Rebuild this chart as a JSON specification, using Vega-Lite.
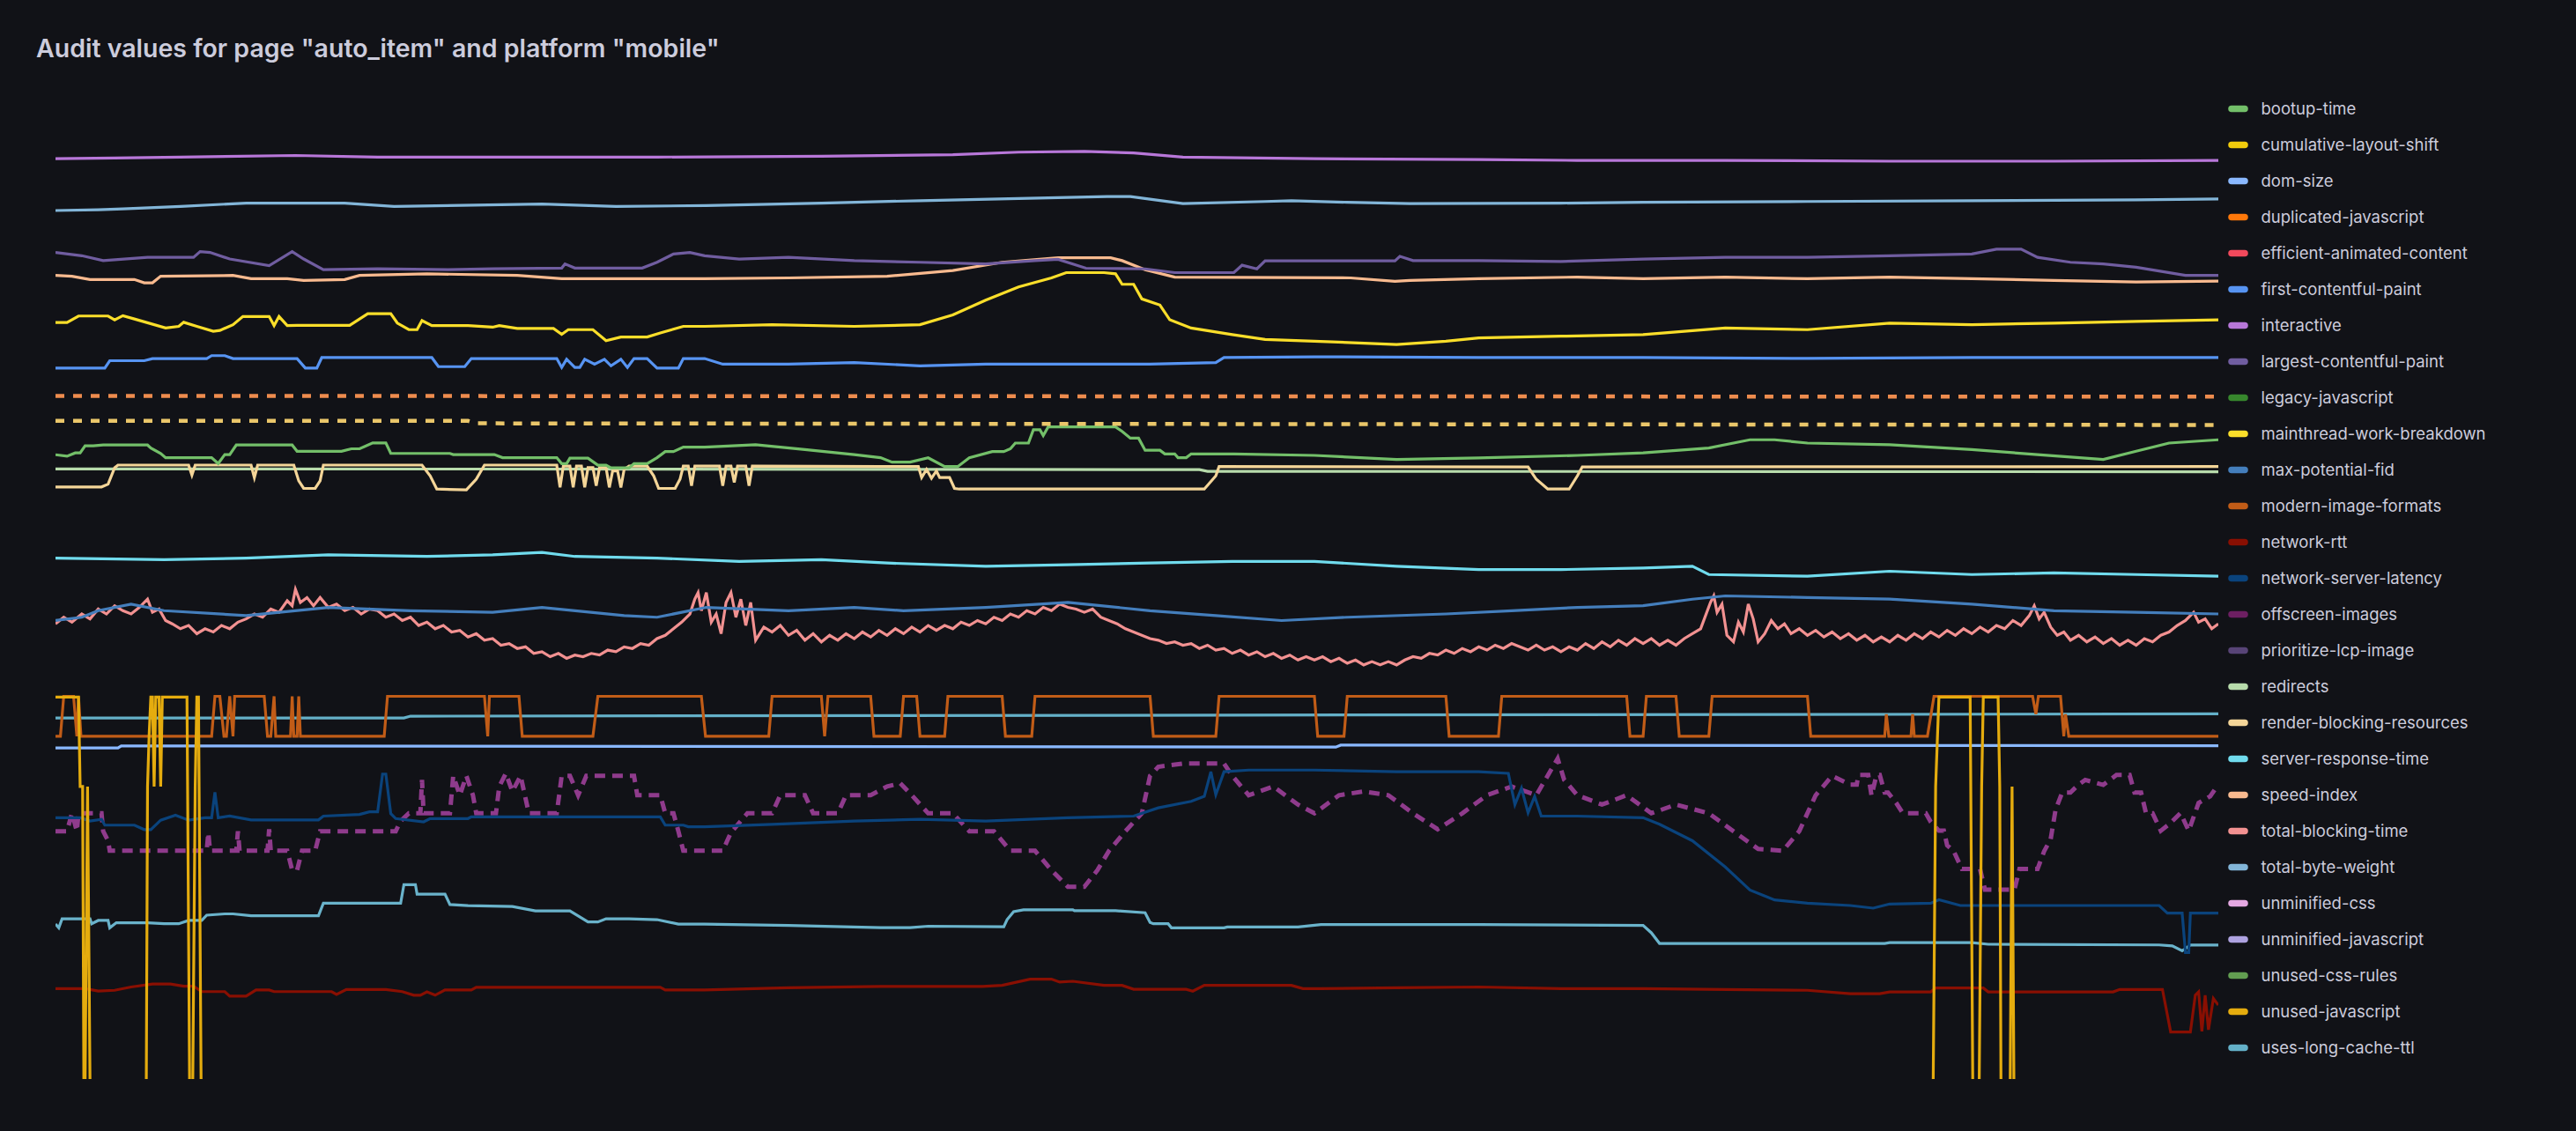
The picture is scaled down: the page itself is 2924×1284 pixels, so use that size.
{
"$schema": "https://vega.github.io/schema/vega-lite/v6.json",
"width": 2455, "height": 1125,
"autosize": {"type": "none"},
"padding": {"left": 63, "top": 100, "right": 406, "bottom": 59},
"background": "#111217",
"config": {"view": {"stroke": null}, "font": "Inter"},
"title": {"text": "Audit values for page \"auto_item\" and platform \"mobile\"", "anchor": "start", "frame": "group", "dx": -22, "offset": 30, "fontSize": 28.5, "fontWeight": 600, "color": "#CCCCDC", "font": "Inter"},
"datasets": {
"interactive": [{"t":0,"v":560},{"t":36,"v":560.5},{"t":76,"v":561},{"t":146,"v":562},{"t":196,"v":561},{"t":266,"v":561},{"t":366,"v":561},{"t":466,"v":561.5},{"t":546,"v":562.5},{"t":586,"v":564},{"t":626,"v":564.5},{"t":656,"v":563.5},{"t":686,"v":561},{"t":766,"v":560},{"t":866,"v":559.5},{"t":926,"v":559},{"t":1016,"v":559},{"t":1116,"v":558.5},{"t":1216,"v":558.5},{"t":1316,"v":559}],
"total-byte-weight": [{"t":0,"v":528.5},{"t":26,"v":529},{"t":41,"v":529.5},{"t":76,"v":531},{"t":116,"v":533},{"t":176,"v":533},{"t":206,"v":531},{"t":296,"v":532.5},{"t":341,"v":531},{"t":396,"v":531.5},{"t":466,"v":533},{"t":526,"v":534.5},{"t":610,"v":536.3},{"t":640,"v":537},{"t":654,"v":537},{"t":686,"v":532.7},{"t":736,"v":534},{"t":752,"v":534.5},{"t":786,"v":533.5},{"t":824,"v":532.7},{"t":916,"v":533},{"t":966,"v":533.5},{"t":1066,"v":534},{"t":1166,"v":534.5},{"t":1266,"v":535},{"t":1316,"v":535.5}],
"largest-contentful-paint": [{"t":0,"v":503},{"t":16,"v":501},{"t":29,"v":498},{"t":56,"v":500},{"t":84,"v":500},{"t":88,"v":503.5},{"t":94,"v":503},{"t":106,"v":499},{"t":130,"v":495},{"t":144,"v":503.5},{"t":151,"v":499},{"t":163,"v":492.5},{"t":196,"v":493},{"t":239,"v":492.5},{"t":266,"v":493},{"t":308,"v":493.5},{"t":310,"v":496},{"t":316,"v":493.5},{"t":357,"v":493.5},{"t":366,"v":497},{"t":376,"v":502},{"t":386,"v":503},{"t":395,"v":501},{"t":416,"v":499},{"t":446,"v":500},{"t":486,"v":498},{"t":526,"v":497},{"t":566,"v":496},{"t":596,"v":498},{"t":610,"v":498.8},{"t":627,"v":493.4},{"t":663,"v":493},{"t":681,"v":490.7},{"t":717,"v":490.7},{"t":722,"v":495.2},{"t":731,"v":493},{"t":736,"v":497.9},{"t":815,"v":497.9},{"t":818,"v":500.6},{"t":826,"v":498},{"t":866,"v":498},{"t":916,"v":497.5},{"t":966,"v":499},{"t":1016,"v":500},{"t":1066,"v":500},{"t":1116,"v":501},{"t":1166,"v":502},{"t":1181,"v":505},{"t":1196,"v":505},{"t":1206,"v":500},{"t":1226,"v":497},{"t":1246,"v":496},{"t":1266,"v":494},{"t":1296,"v":489},{"t":1316,"v":489}],
"speed-index": [{"t":0,"v":489},{"t":10,"v":488.5},{"t":21,"v":486.5},{"t":48,"v":486.5},{"t":54,"v":484.5},{"t":59,"v":484.5},{"t":64,"v":488.5},{"t":108,"v":489},{"t":119,"v":487},{"t":141,"v":487},{"t":151,"v":486},{"t":176,"v":486.5},{"t":185,"v":489},{"t":226,"v":490},{"t":281,"v":489},{"t":308,"v":487},{"t":395,"v":487},{"t":446,"v":487.5},{"t":506,"v":488.5},{"t":546,"v":492},{"t":576,"v":497},{"t":610,"v":499.7},{"t":642,"v":499.7},{"t":649,"v":498},{"t":663,"v":492.5},{"t":681,"v":488},{"t":788,"v":487.5},{"t":815,"v":485.4},{"t":824,"v":486},{"t":866,"v":487},{"t":926,"v":488},{"t":966,"v":487},{"t":1016,"v":488},{"t":1066,"v":487},{"t":1116,"v":488},{"t":1166,"v":487},{"t":1216,"v":486},{"t":1266,"v":485},{"t":1316,"v":485.5}],
"mainthread-work-breakdown": [{"t":0,"v":460.4},{"t":7,"v":460.4},{"t":14,"v":464.3},{"t":32,"v":464.3},{"t":36,"v":462},{"t":41,"v":464.5},{"t":48,"v":462.5},{"t":67,"v":457},{"t":75,"v":458},{"t":78,"v":460.5},{"t":86,"v":458},{"t":96,"v":455},{"t":100,"v":455.5},{"t":108,"v":459},{"t":114,"v":464},{"t":130,"v":464},{"t":133,"v":458.5},{"t":136,"v":464},{"t":141,"v":458.5},{"t":147,"v":458.6},{"t":179,"v":458.6},{"t":190,"v":465.7},{"t":204,"v":465.7},{"t":208,"v":460},{"t":215,"v":456},{"t":220,"v":456},{"t":223,"v":461.5},{"t":229,"v":458.5},{"t":251,"v":458.5},{"t":266,"v":457.5},{"t":270,"v":458.5},{"t":281,"v":456.7},{"t":303,"v":456.7},{"t":308,"v":453.2},{"t":312,"v":456},{"t":327,"v":456},{"t":335,"v":449.3},{"t":344,"v":451.5},{"t":360,"v":451.5},{"t":368,"v":454},{"t":382,"v":458},{"t":395,"v":458},{"t":436,"v":459},{"t":486,"v":458},{"t":526,"v":459},{"t":546,"v":465},{"t":566,"v":474},{"t":586,"v":482},{"t":606,"v":487.5},{"t":615,"v":490.7},{"t":638,"v":490.7},{"t":645,"v":490},{"t":649,"v":483.6},{"t":656,"v":483.6},{"t":661,"v":474.7},{"t":672,"v":471},{"t":678,"v":462},{"t":691,"v":457},{"t":716,"v":453},{"t":736,"v":450},{"t":766,"v":449},{"t":816,"v":447},{"t":846,"v":449},{"t":866,"v":451},{"t":916,"v":452},{"t":966,"v":453},{"t":1016,"v":457},{"t":1066,"v":456},{"t":1116,"v":460},{"t":1166,"v":459},{"t":1216,"v":460},{"t":1266,"v":461},{"t":1316,"v":462}],
"first-contentful-paint": [{"t":0,"v":432.6},{"t":30,"v":432.6},{"t":33,"v":437.1},{"t":54,"v":437.1},{"t":59,"v":438.4},{"t":92,"v":438.4},{"t":95,"v":440.2},{"t":103,"v":440.2},{"t":108,"v":438.4},{"t":147,"v":438.4},{"t":152,"v":432.6},{"t":159,"v":432.6},{"t":162,"v":439},{"t":229,"v":439},{"t":233,"v":433.5},{"t":249,"v":433.5},{"t":253,"v":438.4},{"t":305,"v":438.4},{"t":308,"v":433},{"t":311,"v":438},{"t":316,"v":433},{"t":319,"v":433},{"t":322,"v":438},{"t":328,"v":435},{"t":334,"v":438},{"t":338,"v":434},{"t":344,"v":438},{"t":348,"v":433},{"t":352,"v":438.4},{"t":360,"v":438.4},{"t":366,"v":432.6},{"t":379,"v":432.6},{"t":382,"v":438.4},{"t":395,"v":438.4},{"t":406,"v":435},{"t":446,"v":435},{"t":486,"v":436},{"t":526,"v":434},{"t":566,"v":435},{"t":616,"v":435},{"t":666,"v":435},{"t":706,"v":436},{"t":711,"v":439},{"t":766,"v":439.5},{"t":866,"v":439},{"t":966,"v":439},{"t":1066,"v":438.5},{"t":1166,"v":439},{"t":1266,"v":439},{"t":1316,"v":439}],
"duplicated-javascript": [{"t":0,"v":415.7},{"t":1316,"v":415.2}],
"cumulative-layout-shift": [{"t":0,"v":400.5},{"t":251,"v":400.5},{"t":256,"v":399},{"t":1316,"v":398}],
"bootup-time": [{"t":0,"v":379.9},{"t":7,"v":379},{"t":12,"v":381},{"t":15,"v":381},{"t":18,"v":385.3},{"t":23,"v":385.3},{"t":29,"v":385.8},{"t":56,"v":385.8},{"t":58,"v":384},{"t":64,"v":380.7},{"t":67,"v":378.1},{"t":95,"v":378.1},{"t":99,"v":374.5},{"t":103,"v":380},{"t":106,"v":380},{"t":110,"v":385.8},{"t":144,"v":385.8},{"t":147,"v":382},{"t":174,"v":382},{"t":180,"v":383.5},{"t":185,"v":383.5},{"t":193,"v":387.1},{"t":201,"v":387.1},{"t":204,"v":380.7},{"t":240,"v":380.7},{"t":242,"v":380},{"t":267,"v":380},{"t":272,"v":378.1},{"t":305,"v":378.1},{"t":308,"v":374.5},{"t":311,"v":374.5},{"t":313,"v":377.8},{"t":324,"v":377.8},{"t":330,"v":373.5},{"t":335,"v":373.5},{"t":338,"v":371.9},{"t":349,"v":371.9},{"t":352,"v":374.5},{"t":360,"v":374.5},{"t":366,"v":378.1},{"t":371,"v":381.8},{"t":376,"v":381.8},{"t":382,"v":384.5},{"t":395,"v":384.5},{"t":426,"v":386},{"t":456,"v":383},{"t":486,"v":380},{"t":502,"v":378.1},{"t":509,"v":375.4},{"t":520,"v":375.4},{"t":531,"v":378},{"t":541,"v":372.7},{"t":549,"v":372.7},{"t":556,"v":378},{"t":570,"v":381.8},{"t":577,"v":381.8},{"t":581,"v":383.5},{"t":584,"v":387},{"t":592,"v":387},{"t":595,"v":395.1},{"t":599,"v":395.1},{"t":601,"v":391.5},{"t":604,"v":396.8},{"t":645,"v":396.8},{"t":649,"v":394.1},{"t":654,"v":390},{"t":659,"v":390},{"t":663,"v":382.6},{"t":672,"v":382.6},{"t":675,"v":380.4},{"t":681,"v":380.4},{"t":683,"v":378.1},{"t":688,"v":378.1},{"t":691,"v":380.4},{"t":717,"v":380.4},{"t":766,"v":379.5},{"t":816,"v":377},{"t":866,"v":378},{"t":926,"v":379.5},{"t":966,"v":381},{"t":1006,"v":384},{"t":1031,"v":389},{"t":1046,"v":389},{"t":1066,"v":387},{"t":1116,"v":386},{"t":1166,"v":383},{"t":1206,"v":380},{"t":1246,"v":377},{"t":1266,"v":382},{"t":1286,"v":387},{"t":1316,"v":389}],
"redirects": [{"t":0,"v":371.3},{"t":566,"v":371},{"t":696,"v":370.8},{"t":701,"v":369.8},{"t":1316,"v":369.5}],
"render-blocking-resources": [{"t":0,"v":360.3},{"t":28,"v":360.3},{"t":32,"v":362},{"t":36,"v":372},{"t":38,"v":373.6},{"t":81,"v":373.6},{"t":83,"v":367.5},{"t":85,"v":373.6},{"t":119,"v":373.6},{"t":121,"v":366},{"t":123,"v":373.6},{"t":145,"v":373.6},{"t":148,"v":364},{"t":151,"v":359.4},{"t":158,"v":359.4},{"t":161,"v":364},{"t":163,"v":373.6},{"t":223,"v":373.6},{"t":228,"v":367},{"t":232,"v":359},{"t":250,"v":358.5},{"t":256,"v":365},{"t":261,"v":373.6},{"t":305,"v":373.6},{"t":307,"v":360},{"t":309,"v":373},{"t":313,"v":373},{"t":315,"v":360},{"t":317,"v":373},{"t":320,"v":373},{"t":322,"v":360},{"t":324,"v":372},{"t":327,"v":372},{"t":329,"v":361},{"t":331,"v":372},{"t":335,"v":372},{"t":337,"v":360},{"t":339,"v":370},{"t":342,"v":370},{"t":344,"v":360},{"t":346,"v":371},{"t":349,"v":373},{"t":360,"v":373},{"t":364,"v":367},{"t":367,"v":359.4},{"t":377,"v":359.4},{"t":380,"v":365},{"t":382,"v":373},{"t":385,"v":373},{"t":387,"v":361},{"t":389,"v":373},{"t":404,"v":373},{"t":406,"v":361},{"t":408,"v":373},{"t":411,"v":373},{"t":413,"v":363},{"t":415,"v":373},{"t":420,"v":373},{"t":422,"v":361},{"t":424,"v":373},{"t":502,"v":372.7},{"t":525,"v":372.7},{"t":527,"v":366},{"t":530,"v":371},{"t":533,"v":365.6},{"t":536,"v":370},{"t":538,"v":366},{"t":544,"v":366},{"t":547,"v":359.4},{"t":550,"v":359},{"t":699,"v":359},{"t":706,"v":367},{"t":708,"v":372.7},{"t":896,"v":372.5},{"t":901,"v":365},{"t":908,"v":359},{"t":921,"v":359},{"t":926,"v":367},{"t":929,"v":372.5},{"t":1316,"v":372.7}],
"server-response-time": [{"t":0,"v":317},{"t":66,"v":316},{"t":116,"v":317},{"t":166,"v":319},{"t":226,"v":318},{"t":266,"v":319},{"t":296,"v":320.5},{"t":316,"v":318},{"t":366,"v":317},{"t":416,"v":315},{"t":466,"v":316},{"t":506,"v":314},{"t":566,"v":312},{"t":616,"v":313},{"t":666,"v":314},{"t":716,"v":315},{"t":766,"v":315},{"t":816,"v":312},{"t":866,"v":310},{"t":916,"v":310},{"t":966,"v":311},{"t":996,"v":312},{"t":1006,"v":307},{"t":1066,"v":306},{"t":1116,"v":309},{"t":1166,"v":307},{"t":1216,"v":308},{"t":1266,"v":307},{"t":1316,"v":306}],
"max-potential-fid": [{"t":0,"v":279},{"t":16,"v":281},{"t":26,"v":285},{"t":46,"v":289},{"t":66,"v":285},{"t":116,"v":282},{"t":166,"v":287},{"t":216,"v":285},{"t":266,"v":284},{"t":296,"v":287},{"t":346,"v":282},{"t":366,"v":281},{"t":396,"v":287},{"t":446,"v":285},{"t":486,"v":287},{"t":516,"v":285},{"t":566,"v":287},{"t":616,"v":290},{"t":666,"v":285},{"t":706,"v":282},{"t":746,"v":279},{"t":786,"v":281},{"t":846,"v":283},{"t":886,"v":285},{"t":926,"v":287},{"t":966,"v":288},{"t":996,"v":292},{"t":1016,"v":294},{"t":1066,"v":293},{"t":1116,"v":292},{"t":1166,"v":289},{"t":1216,"v":285},{"t":1266,"v":284},{"t":1316,"v":283}],
"total-blocking-time": [{"t":0,"v":277},{"t":5,"v":281},{"t":10,"v":278},{"t":16,"v":283},{"t":21,"v":280},{"t":26,"v":286},{"t":31,"v":283},{"t":36,"v":288},{"t":41,"v":285},{"t":46,"v":283},{"t":51,"v":287},{"t":56,"v":292},{"t":59,"v":284},{"t":63,"v":286},{"t":67,"v":279},{"t":71,"v":277},{"t":76,"v":274},{"t":81,"v":276},{"t":86,"v":271},{"t":91,"v":274},{"t":96,"v":272},{"t":101,"v":276},{"t":106,"v":274},{"t":111,"v":278},{"t":116,"v":280},{"t":121,"v":283},{"t":126,"v":281},{"t":131,"v":286},{"t":136,"v":284},{"t":141,"v":291},{"t":144,"v":288},{"t":146,"v":298},{"t":149,"v":290},{"t":153,"v":293},{"t":157,"v":288},{"t":161,"v":293},{"t":166,"v":287},{"t":171,"v":289},{"t":176,"v":285},{"t":181,"v":287},{"t":186,"v":283},{"t":191,"v":286},{"t":196,"v":285},{"t":201,"v":281},{"t":206,"v":283},{"t":211,"v":279},{"t":216,"v":281},{"t":221,"v":276},{"t":226,"v":278},{"t":231,"v":274},{"t":236,"v":276},{"t":241,"v":272},{"t":246,"v":273},{"t":251,"v":269},{"t":256,"v":271},{"t":261,"v":267},{"t":266,"v":268},{"t":271,"v":264},{"t":276,"v":265},{"t":281,"v":262},{"t":286,"v":263},{"t":291,"v":259},{"t":296,"v":260},{"t":301,"v":257},{"t":306,"v":259},{"t":311,"v":256},{"t":316,"v":258},{"t":321,"v":257},{"t":326,"v":259},{"t":331,"v":258},{"t":336,"v":261},{"t":341,"v":260},{"t":346,"v":263},{"t":351,"v":262},{"t":356,"v":265},{"t":361,"v":264},{"t":366,"v":268},{"t":371,"v":270},{"t":376,"v":274},{"t":381,"v":278},{"t":386,"v":283},{"t":389,"v":292},{"t":391,"v":296},{"t":393,"v":285},{"t":396,"v":296},{"t":399,"v":278},{"t":402,"v":283},{"t":405,"v":271},{"t":408,"v":290},{"t":411,"v":296},{"t":414,"v":281},{"t":417,"v":292},{"t":420,"v":276},{"t":423,"v":290},{"t":426,"v":267},{"t":431,"v":275},{"t":436,"v":272},{"t":441,"v":276},{"t":446,"v":270},{"t":451,"v":273},{"t":456,"v":267},{"t":461,"v":271},{"t":466,"v":266},{"t":471,"v":270},{"t":476,"v":267},{"t":481,"v":271},{"t":486,"v":268},{"t":491,"v":272},{"t":496,"v":269},{"t":501,"v":273},{"t":506,"v":270},{"t":511,"v":274},{"t":516,"v":271},{"t":521,"v":275},{"t":526,"v":272},{"t":531,"v":276},{"t":536,"v":273},{"t":541,"v":276},{"t":546,"v":274},{"t":551,"v":278},{"t":556,"v":276},{"t":561,"v":279},{"t":566,"v":277},{"t":571,"v":281},{"t":576,"v":279},{"t":581,"v":283},{"t":586,"v":281},{"t":591,"v":285},{"t":596,"v":283},{"t":601,"v":287},{"t":606,"v":285},{"t":611,"v":289},{"t":616,"v":287},{"t":621,"v":286},{"t":626,"v":284},{"t":631,"v":286},{"t":636,"v":281},{"t":641,"v":279},{"t":646,"v":277},{"t":651,"v":274},{"t":656,"v":272},{"t":661,"v":270},{"t":666,"v":268},{"t":671,"v":267},{"t":676,"v":265},{"t":681,"v":266},{"t":686,"v":264},{"t":691,"v":265},{"t":696,"v":262},{"t":701,"v":264},{"t":706,"v":261},{"t":711,"v":262},{"t":716,"v":259},{"t":721,"v":261},{"t":726,"v":258},{"t":731,"v":260},{"t":736,"v":257},{"t":741,"v":259},{"t":746,"v":256},{"t":751,"v":258},{"t":756,"v":255},{"t":761,"v":257},{"t":766,"v":255},{"t":771,"v":257},{"t":776,"v":254},{"t":781,"v":256},{"t":786,"v":253},{"t":791,"v":255},{"t":796,"v":252},{"t":801,"v":254},{"t":806,"v":252},{"t":811,"v":254},{"t":816,"v":252},{"t":821,"v":255},{"t":826,"v":257},{"t":831,"v":256},{"t":836,"v":259},{"t":841,"v":258},{"t":846,"v":261},{"t":851,"v":259},{"t":856,"v":262},{"t":861,"v":260},{"t":866,"v":263},{"t":871,"v":261},{"t":876,"v":264},{"t":881,"v":262},{"t":886,"v":265},{"t":891,"v":263},{"t":896,"v":261},{"t":901,"v":264},{"t":906,"v":261},{"t":911,"v":263},{"t":916,"v":260},{"t":921,"v":263},{"t":926,"v":261},{"t":931,"v":265},{"t":936,"v":262},{"t":941,"v":266},{"t":946,"v":263},{"t":951,"v":267},{"t":956,"v":264},{"t":961,"v":268},{"t":966,"v":265},{"t":971,"v":268},{"t":976,"v":264},{"t":981,"v":267},{"t":986,"v":264},{"t":991,"v":268},{"t":996,"v":271},{"t":1001,"v":274},{"t":1004,"v":282},{"t":1007,"v":290},{"t":1009,"v":294},{"t":1011,"v":284},{"t":1014,"v":289},{"t":1017,"v":270},{"t":1021,"v":266},{"t":1024,"v":278},{"t":1027,"v":272},{"t":1030,"v":289},{"t":1033,"v":280},{"t":1036,"v":266},{"t":1040,"v":271},{"t":1044,"v":279},{"t":1048,"v":274},{"t":1052,"v":277},{"t":1056,"v":271},{"t":1061,"v":274},{"t":1066,"v":270},{"t":1071,"v":273},{"t":1076,"v":269},{"t":1081,"v":272},{"t":1086,"v":268},{"t":1091,"v":271},{"t":1096,"v":267},{"t":1101,"v":270},{"t":1106,"v":266},{"t":1111,"v":269},{"t":1116,"v":266},{"t":1121,"v":270},{"t":1126,"v":267},{"t":1131,"v":271},{"t":1136,"v":268},{"t":1141,"v":272},{"t":1146,"v":269},{"t":1151,"v":273},{"t":1156,"v":270},{"t":1161,"v":274},{"t":1166,"v":271},{"t":1171,"v":275},{"t":1176,"v":272},{"t":1181,"v":276},{"t":1186,"v":274},{"t":1191,"v":279},{"t":1196,"v":276},{"t":1201,"v":282},{"t":1204,"v":288},{"t":1207,"v":280},{"t":1210,"v":284},{"t":1214,"v":275},{"t":1218,"v":270},{"t":1222,"v":272},{"t":1226,"v":267},{"t":1231,"v":270},{"t":1236,"v":266},{"t":1241,"v":269},{"t":1246,"v":265},{"t":1251,"v":268},{"t":1256,"v":264},{"t":1261,"v":267},{"t":1266,"v":264},{"t":1271,"v":268},{"t":1276,"v":266},{"t":1281,"v":270},{"t":1286,"v":272},{"t":1291,"v":276},{"t":1296,"v":279},{"t":1301,"v":284},{"t":1304,"v":278},{"t":1308,"v":280},{"t":1312,"v":274},{"t":1316,"v":277}],
"modern-image-formats": [{"t":0,"v":208.6},{"t":3,"v":208.6},{"t":5,"v":232.9},{"t":11,"v":232.9},{"t":13,"v":208.6},{"t":14,"v":232.9},{"t":15.5,"v":208.6},{"t":95,"v":208.6},{"t":97,"v":232.9},{"t":100,"v":232.9},{"t":102.5,"v":208.6},{"t":104,"v":208.6},{"t":106,"v":232.9},{"t":108,"v":208.6},{"t":109,"v":232.9},{"t":127,"v":232.9},{"t":129,"v":208.6},{"t":131,"v":208.6},{"t":133,"v":232.9},{"t":134,"v":208.6},{"t":143,"v":208.6},{"t":144,"v":232.9},{"t":145,"v":208.6},{"t":147,"v":208.6},{"t":148,"v":232.9},{"t":149,"v":208.6},{"t":200,"v":208.6},{"t":202,"v":232.9},{"t":261,"v":232.9},{"t":263,"v":208.6},{"t":264,"v":232.9},{"t":282,"v":232.9},{"t":284,"v":208.6},{"t":327,"v":208.6},{"t":330,"v":232.9},{"t":393,"v":232.9},{"t":395.5,"v":208.6},{"t":434,"v":208.6},{"t":436,"v":232.9},{"t":466,"v":232.9},{"t":468,"v":208.6},{"t":470,"v":232.9},{"t":496,"v":232.9},{"t":498,"v":208.6},{"t":514,"v":208.6},{"t":516,"v":232.9},{"t":524,"v":232.9},{"t":526,"v":208.6},{"t":541,"v":208.6},{"t":543,"v":232.9},{"t":576,"v":232.9},{"t":578,"v":208.6},{"t":594,"v":208.6},{"t":596,"v":232.9},{"t":666,"v":232.9},{"t":668,"v":208.6},{"t":706,"v":208.6},{"t":708,"v":232.9},{"t":766,"v":232.9},{"t":768,"v":208.6},{"t":784,"v":208.6},{"t":786,"v":232.9},{"t":846,"v":232.9},{"t":848,"v":208.6},{"t":878,"v":208.6},{"t":880,"v":232.9},{"t":956,"v":232.9},{"t":958,"v":208.6},{"t":966,"v":208.6},{"t":968,"v":232.9},{"t":986,"v":232.9},{"t":988,"v":208.6},{"t":1006,"v":208.6},{"t":1008,"v":232.9},{"t":1066,"v":232.9},{"t":1068,"v":208.6},{"t":1113,"v":208.6},{"t":1114,"v":222},{"t":1115.5,"v":208.6},{"t":1129,"v":208.6},{"t":1130,"v":222},{"t":1131,"v":208.6},{"t":1139,"v":208.6},{"t":1143,"v":232.9},{"t":1203,"v":232.9},{"t":1205,"v":222},{"t":1206.5,"v":232.9},{"t":1220,"v":232.9},{"t":1222,"v":208.6},{"t":1223,"v":222},{"t":1225,"v":208.6},{"t":1316,"v":208.6}],
"uses-long-cache-ttl": [{"t":0,"v":219.7},{"t":212,"v":219.7},{"t":216,"v":220.8},{"t":1316,"v":222.2}],
"dom-size": [{"t":0,"v":201.5},{"t":38,"v":201.5},{"t":40,"v":202.7},{"t":779,"v":202},{"t":782,"v":203.2},{"t":1316,"v":202.8}],
"unused-javascript": [{"t":0,"v":232.4},{"t":14,"v":232.4},{"t":15,"v":178},{"t":16.5,"v":178},{"t":17.5,"v":-63},{"t":19.5,"v":178},{"t":21.5,"v":-63},{"t":55,"v":-63},{"t":56,"v":178},{"t":57,"v":210},{"t":58,"v":232.4},{"t":59,"v":232.4},{"t":60,"v":178},{"t":61,"v":232.4},{"t":63,"v":232.4},{"t":64,"v":178},{"t":65,"v":232.4},{"t":80,"v":232.4},{"t":82,"v":-63},{"t":83,"v":-63},{"t":85,"v":178},{"t":86,"v":232.4},{"t":87,"v":232.4},{"t":89,"v":-63},{"t":1142,"v":-63},{"t":1144,"v":178},{"t":1146,"v":232.4},{"t":1165,"v":232.4},{"t":1167,"v":-63},{"t":1170,"v":-63},{"t":1172,"v":178},{"t":1173,"v":232.4},{"t":1182,"v":232.4},{"t":1183,"v":178},{"t":1184,"v":-63},{"t":1189,"v":-63},{"t":1190.5,"v":178},{"t":1192,"v":-63},{"t":1316,"v":-63}],
"network-server-latency": [{"t":0,"v":159},{"t":15,"v":159},{"t":21,"v":157},{"t":28,"v":158},{"t":30,"v":154.5},{"t":48,"v":154.5},{"t":54,"v":151.8},{"t":58,"v":151.8},{"t":64,"v":157.5},{"t":73,"v":160.5},{"t":81,"v":157.5},{"t":91,"v":159},{"t":95,"v":159},{"t":97,"v":174.5},{"t":99,"v":159},{"t":106,"v":160},{"t":119,"v":157.7},{"t":160,"v":157.7},{"t":163,"v":160},{"t":185,"v":161},{"t":191,"v":162.6},{"t":196,"v":162.6},{"t":199,"v":185.6},{"t":201,"v":185.6},{"t":204,"v":161.5},{"t":207,"v":158.5},{"t":224,"v":156.5},{"t":228,"v":158.5},{"t":251,"v":158.5},{"t":253,"v":159.5},{"t":368,"v":159.5},{"t":371,"v":154.5},{"t":382,"v":154.5},{"t":385,"v":153.5},{"t":395,"v":153.5},{"t":436,"v":155},{"t":486,"v":157},{"t":526,"v":158},{"t":566,"v":157},{"t":616,"v":159},{"t":656,"v":160},{"t":671,"v":165},{"t":691,"v":169},{"t":699,"v":172},{"t":703,"v":187},{"t":706,"v":173},{"t":711,"v":187},{"t":726,"v":188},{"t":766,"v":188},{"t":816,"v":187},{"t":866,"v":187},{"t":884,"v":186},{"t":888,"v":167},{"t":892,"v":177},{"t":896,"v":162},{"t":900,"v":172},{"t":904,"v":160},{"t":926,"v":160},{"t":966,"v":159},{"t":976,"v":155},{"t":996,"v":145},{"t":1016,"v":129},{"t":1031,"v":115},{"t":1046,"v":109},{"t":1066,"v":107},{"t":1092,"v":105.6},{"t":1106,"v":104},{"t":1116,"v":106.5},{"t":1141,"v":107},{"t":1146,"v":109.1},{"t":1159,"v":105.6},{"t":1280,"v":105.6},{"t":1285,"v":101},{"t":1294,"v":101},{"t":1296,"v":77},{"t":1298,"v":77},{"t":1299,"v":101},{"t":1316,"v":101}],
"offscreen-images": [{"t":0,"v":150.8},{"t":7,"v":150.8},{"t":10,"v":161.7},{"t":13,"v":150.8},{"t":14,"v":161.7},{"t":28,"v":161.7},{"t":29,"v":150.8},{"t":32,"v":145},{"t":33,"v":138.9},{"t":92,"v":138.9},{"t":93,"v":150},{"t":94,"v":138.9},{"t":110,"v":138.9},{"t":111,"v":150.8},{"t":112,"v":138.9},{"t":129,"v":138.9},{"t":130,"v":152},{"t":131,"v":138.9},{"t":141,"v":138.9},{"t":144,"v":127.1},{"t":147,"v":127.1},{"t":150,"v":138.9},{"t":158,"v":138.9},{"t":161,"v":150.8},{"t":207,"v":150.8},{"t":210,"v":157},{"t":215,"v":161.7},{"t":222,"v":161.7},{"t":223,"v":182},{"t":224,"v":161.7},{"t":240,"v":161.7},{"t":242,"v":184.5},{"t":246,"v":172.7},{"t":250,"v":184.5},{"t":254,"v":172.7},{"t":256,"v":161.7},{"t":268,"v":161.7},{"t":270,"v":178},{"t":274,"v":186},{"t":278,"v":175},{"t":283,"v":184.5},{"t":288,"v":161.7},{"t":305,"v":161.7},{"t":308,"v":184.5},{"t":313,"v":184.5},{"t":318,"v":172.7},{"t":323,"v":184.5},{"t":352,"v":184.5},{"t":354,"v":172.7},{"t":368,"v":172.7},{"t":371,"v":161.7},{"t":376,"v":161.7},{"t":379,"v":150.8},{"t":382,"v":138.9},{"t":395,"v":138.9},{"t":406,"v":138.9},{"t":411,"v":150},{"t":421,"v":161.7},{"t":436,"v":161.7},{"t":441,"v":172.7},{"t":456,"v":172.7},{"t":461,"v":161.7},{"t":476,"v":161.7},{"t":481,"v":172.7},{"t":496,"v":172.7},{"t":506,"v":178},{"t":514,"v":180},{"t":521,"v":172.7},{"t":531,"v":161.7},{"t":546,"v":161.7},{"t":556,"v":150.8},{"t":571,"v":150.8},{"t":581,"v":138.9},{"t":596,"v":138.9},{"t":606,"v":127.1},{"t":616,"v":117},{"t":626,"v":117},{"t":634,"v":127.1},{"t":641,"v":138.9},{"t":651,"v":150.8},{"t":661,"v":161.7},{"t":666,"v":184.5},{"t":671,"v":190},{"t":686,"v":192},{"t":711,"v":192},{"t":716,"v":184.5},{"t":726,"v":172.7},{"t":741,"v":178},{"t":756,"v":167},{"t":766,"v":161.7},{"t":781,"v":172.7},{"t":796,"v":175},{"t":811,"v":172.7},{"t":826,"v":161.7},{"t":841,"v":152},{"t":856,"v":161.7},{"t":871,"v":172.7},{"t":886,"v":178},{"t":901,"v":172.7},{"t":914,"v":195},{"t":918,"v":182},{"t":926,"v":172.7},{"t":941,"v":167},{"t":956,"v":172.7},{"t":971,"v":161.7},{"t":986,"v":167},{"t":1006,"v":161.7},{"t":1021,"v":150.8},{"t":1036,"v":140},{"t":1051,"v":138.9},{"t":1061,"v":150.8},{"t":1071,"v":172.7},{"t":1081,"v":184.5},{"t":1092,"v":179.2},{"t":1096,"v":179.2},{"t":1097,"v":185},{"t":1103,"v":185},{"t":1105,"v":172.4},{"t":1108,"v":185},{"t":1110,"v":185},{"t":1113,"v":174.3},{"t":1115,"v":174.3},{"t":1120,"v":168},{"t":1124,"v":161.8},{"t":1138,"v":161.8},{"t":1141,"v":156.5},{"t":1146,"v":151.1},{"t":1149,"v":151.1},{"t":1151,"v":142.2},{"t":1155,"v":138.6},{"t":1160,"v":127.8},{"t":1171,"v":127.8},{"t":1174,"v":115.3},{"t":1192,"v":115.3},{"t":1195,"v":127.8},{"t":1206,"v":127.8},{"t":1210,"v":138.6},{"t":1214,"v":146},{"t":1215.5,"v":155},{"t":1217,"v":164},{"t":1221,"v":174.3},{"t":1226,"v":174.3},{"t":1231,"v":179.2},{"t":1235,"v":182},{"t":1246,"v":179},{"t":1254,"v":185},{"t":1262,"v":185},{"t":1265,"v":174.3},{"t":1269,"v":174.3},{"t":1272,"v":161.8},{"t":1276,"v":161.8},{"t":1281,"v":151.1},{"t":1286,"v":155},{"t":1293,"v":161.8},{"t":1298,"v":151.1},{"t":1304,"v":168},{"t":1311,"v":172},{"t":1316,"v":179.2}],
"uses-optimized-images": [{"t":0,"v":94.3},{"t":2,"v":92},{"t":4,"v":97.5},{"t":21,"v":97.5},{"t":22,"v":94.5},{"t":26,"v":96.5},{"t":32,"v":96.5},{"t":33,"v":92},{"t":37,"v":95.1},{"t":56,"v":95.1},{"t":66,"v":94.5},{"t":75,"v":94.5},{"t":81,"v":96.5},{"t":89,"v":96.5},{"t":92,"v":99.7},{"t":103,"v":100.5},{"t":108,"v":100.5},{"t":119,"v":99.4},{"t":160,"v":99.4},{"t":163,"v":107},{"t":210,"v":107},{"t":212,"v":118.3},{"t":219,"v":118.3},{"t":220,"v":112.5},{"t":237,"v":112.5},{"t":240,"v":106.2},{"t":251,"v":105.5},{"t":278,"v":105},{"t":292,"v":102.3},{"t":313,"v":102.3},{"t":324,"v":95.6},{"t":330,"v":95.6},{"t":335,"v":97.5},{"t":349,"v":97.5},{"t":366,"v":97},{"t":379,"v":94.3},{"t":395,"v":94.3},{"t":446,"v":93.5},{"t":502,"v":92.1},{"t":520,"v":92.1},{"t":531,"v":93},{"t":577,"v":92.7},{"t":579,"v":97},{"t":583,"v":101.9},{"t":589,"v":103},{"t":619,"v":103},{"t":620,"v":102.4},{"t":645,"v":102.4},{"t":663,"v":101.2},{"t":666,"v":95.3},{"t":668,"v":94.5},{"t":677,"v":94.5},{"t":679,"v":92},{"t":711,"v":92},{"t":713,"v":92.5},{"t":756,"v":92.5},{"t":770,"v":94},{"t":866,"v":94},{"t":966,"v":93.5},{"t":971,"v":89},{"t":976,"v":82.5},{"t":1113,"v":82.5},{"t":1116,"v":83},{"t":1166,"v":83},{"t":1176,"v":82},{"t":1280,"v":81.6},{"t":1288,"v":81},{"t":1294,"v":78},{"t":1299,"v":81.5},{"t":1316,"v":81.5}],
"network-rtt": [{"t":0,"v":55},{"t":18,"v":55},{"t":26,"v":53.5},{"t":36,"v":54},{"t":46,"v":56},{"t":59,"v":57.8},{"t":70,"v":57.8},{"t":78,"v":56.5},{"t":84,"v":56.5},{"t":89,"v":53.2},{"t":103,"v":53.2},{"t":106,"v":50.4},{"t":116,"v":50.4},{"t":122,"v":54.2},{"t":130,"v":54.2},{"t":133,"v":53.2},{"t":168,"v":53.2},{"t":171,"v":51.5},{"t":177,"v":54.5},{"t":201,"v":54.5},{"t":211,"v":53.2},{"t":218,"v":51},{"t":222,"v":51},{"t":226,"v":53},{"t":231,"v":51},{"t":237,"v":54.2},{"t":253,"v":54.2},{"t":256,"v":55.8},{"t":322,"v":55.8},{"t":368,"v":55.8},{"t":371,"v":54.2},{"t":395,"v":54.2},{"t":446,"v":55.5},{"t":502,"v":56.3},{"t":564,"v":56.3},{"t":576,"v":57},{"t":593,"v":60.8},{"t":606,"v":60.8},{"t":611,"v":59},{"t":619,"v":59.5},{"t":638,"v":57},{"t":649,"v":57},{"t":656,"v":54.6},{"t":688,"v":54.6},{"t":692,"v":53.5},{"t":699,"v":57},{"t":752,"v":57},{"t":759,"v":55},{"t":770,"v":55},{"t":816,"v":55.5},{"t":866,"v":56},{"t":916,"v":55},{"t":966,"v":55},{"t":1016,"v":54.5},{"t":1066,"v":54},{"t":1092,"v":51.9},{"t":1110,"v":51.9},{"t":1116,"v":53},{"t":1141,"v":53},{"t":1144,"v":55.4},{"t":1173,"v":55.4},{"t":1176,"v":53},{"t":1252,"v":53},{"t":1256,"v":54.5},{"t":1282,"v":54.5},{"t":1287,"v":28.6},{"t":1299,"v":28.6},{"t":1302,"v":51},{"t":1304,"v":53},{"t":1306,"v":29},{"t":1308,"v":51},{"t":1310,"v":30},{"t":1313,"v":49},{"t":1316,"v":45}]
},
"encoding": {
  "x": {"field": "t", "type": "quantitative", "scale": {"domain": [0, 1316], "nice": false, "zero": false}, "axis": null},
  "y": {"field": "v", "type": "quantitative", "scale": {"domain": [0, 603], "nice": false, "zero": false}, "axis": null}
},
"layer": [
  {"data": {"name": "network-rtt"}, "mark": {"type": "line", "strokeWidth": 3.2, "clip": true},
   "encoding": {"color": {"datum": "network-rtt", "type": "nominal",
     "scale": {"domain": ["bootup-time","cumulative-layout-shift","dom-size","duplicated-javascript","efficient-animated-content","first-contentful-paint","interactive","largest-contentful-paint","legacy-javascript","mainthread-work-breakdown","max-potential-fid","modern-image-formats","network-rtt","network-server-latency","offscreen-images","prioritize-lcp-image","redirects","render-blocking-resources","server-response-time","speed-index","total-blocking-time","total-byte-weight","unminified-css","unminified-javascript","unused-css-rules","unused-javascript","uses-long-cache-ttl"],
       "range": ["#73BF69","#F2CC0C","#8AB8FF","#FF780A","#F2495C","#5794F2","#B877D9","#705DA0","#37872D","#FADE2A","#447EBC","#C15C17","#890F02","#0A437C","#6D1F62","#584477","#B7DBAB","#F4D598","#70DBED","#F9BA8F","#F29191","#82B5D8","#E5A8E2","#AEA2E0","#629E51","#E5AC0E","#64B0C8"]},
     "legend": {"orient": "none", "legendX": 2466, "legendY": 12, "title": null, "symbolType": "stroke", "symbolSize": 225, "symbolStrokeWidth": 7.5, "labelFontSize": 18.5, "labelColor": "#CCCCDC", "labelFont": "Inter", "labelOffset": 14.5, "rowPadding": 10, "labelLimit": 500, "padding": 0,
       "encode": {"symbols": {"update": {"strokeCap": {"value": "round"}, "strokeDash": {"value": []}}}}}}}},
  {"data": {"name": "uses-optimized-images"}, "mark": {"type": "line", "strokeWidth": 3.2, "clip": true, "color": "#6AB3CB"}, "encoding": {}},
  {"data": {"name": "offscreen-images"}, "mark": {"type": "line", "strokeWidth": 5, "clip": true, "color": "#8F3B8C", "strokeDash": [12, 8]}, "encoding": {}},
  {"data": {"name": "network-server-latency"}, "mark": {"type": "line", "strokeWidth": 3.2, "clip": true}, "encoding": {"color": {"datum": "network-server-latency"}}},
  {"data": {"name": "dom-size"}, "mark": {"type": "line", "strokeWidth": 3.2, "clip": true}, "encoding": {"color": {"datum": "dom-size"}}},
  {"data": {"name": "uses-long-cache-ttl"}, "mark": {"type": "line", "strokeWidth": 3.2, "clip": true}, "encoding": {"color": {"datum": "uses-long-cache-ttl"}}},
  {"data": {"name": "modern-image-formats"}, "mark": {"type": "line", "strokeWidth": 3.2, "clip": true}, "encoding": {"color": {"datum": "modern-image-formats"}}},
  {"data": {"name": "unused-javascript"}, "mark": {"type": "line", "strokeWidth": 3.2, "clip": true}, "encoding": {"color": {"datum": "unused-javascript"}}},
  {"data": {"name": "total-blocking-time"}, "mark": {"type": "line", "strokeWidth": 3.2, "clip": true}, "encoding": {"color": {"datum": "total-blocking-time"}}},
  {"data": {"name": "max-potential-fid"}, "mark": {"type": "line", "strokeWidth": 3.2, "clip": true}, "encoding": {"color": {"datum": "max-potential-fid"}}},
  {"data": {"name": "server-response-time"}, "mark": {"type": "line", "strokeWidth": 3.2, "clip": true}, "encoding": {"color": {"datum": "server-response-time"}}},
  {"data": {"name": "redirects"}, "mark": {"type": "line", "strokeWidth": 3.2, "clip": true}, "encoding": {"color": {"datum": "redirects"}}},
  {"data": {"name": "render-blocking-resources"}, "mark": {"type": "line", "strokeWidth": 3.2, "clip": true}, "encoding": {"color": {"datum": "render-blocking-resources"}}},
  {"data": {"name": "bootup-time"}, "mark": {"type": "line", "strokeWidth": 3.2, "clip": true}, "encoding": {"color": {"datum": "bootup-time"}}},
  {"data": {"name": "cumulative-layout-shift"}, "mark": {"type": "line", "strokeWidth": 4.5, "clip": true, "color": "#EAC66A", "strokeDash": [10, 10]}, "encoding": {}},
  {"data": {"name": "duplicated-javascript"}, "mark": {"type": "line", "strokeWidth": 4.5, "clip": true, "color": "#EE8C4E", "strokeDash": [10, 10]}, "encoding": {}},
  {"data": {"name": "first-contentful-paint"}, "mark": {"type": "line", "strokeWidth": 3.2, "clip": true}, "encoding": {"color": {"datum": "first-contentful-paint"}}},
  {"data": {"name": "mainthread-work-breakdown"}, "mark": {"type": "line", "strokeWidth": 3.2, "clip": true}, "encoding": {"color": {"datum": "mainthread-work-breakdown"}}},
  {"data": {"name": "speed-index"}, "mark": {"type": "line", "strokeWidth": 3.2, "clip": true}, "encoding": {"color": {"datum": "speed-index"}}},
  {"data": {"name": "largest-contentful-paint"}, "mark": {"type": "line", "strokeWidth": 3.2, "clip": true}, "encoding": {"color": {"datum": "largest-contentful-paint"}}},
  {"data": {"name": "total-byte-weight"}, "mark": {"type": "line", "strokeWidth": 3.2, "clip": true}, "encoding": {"color": {"datum": "total-byte-weight"}}},
  {"data": {"name": "interactive"}, "mark": {"type": "line", "strokeWidth": 3.2, "clip": true}, "encoding": {"color": {"datum": "interactive"}}}
]
}
